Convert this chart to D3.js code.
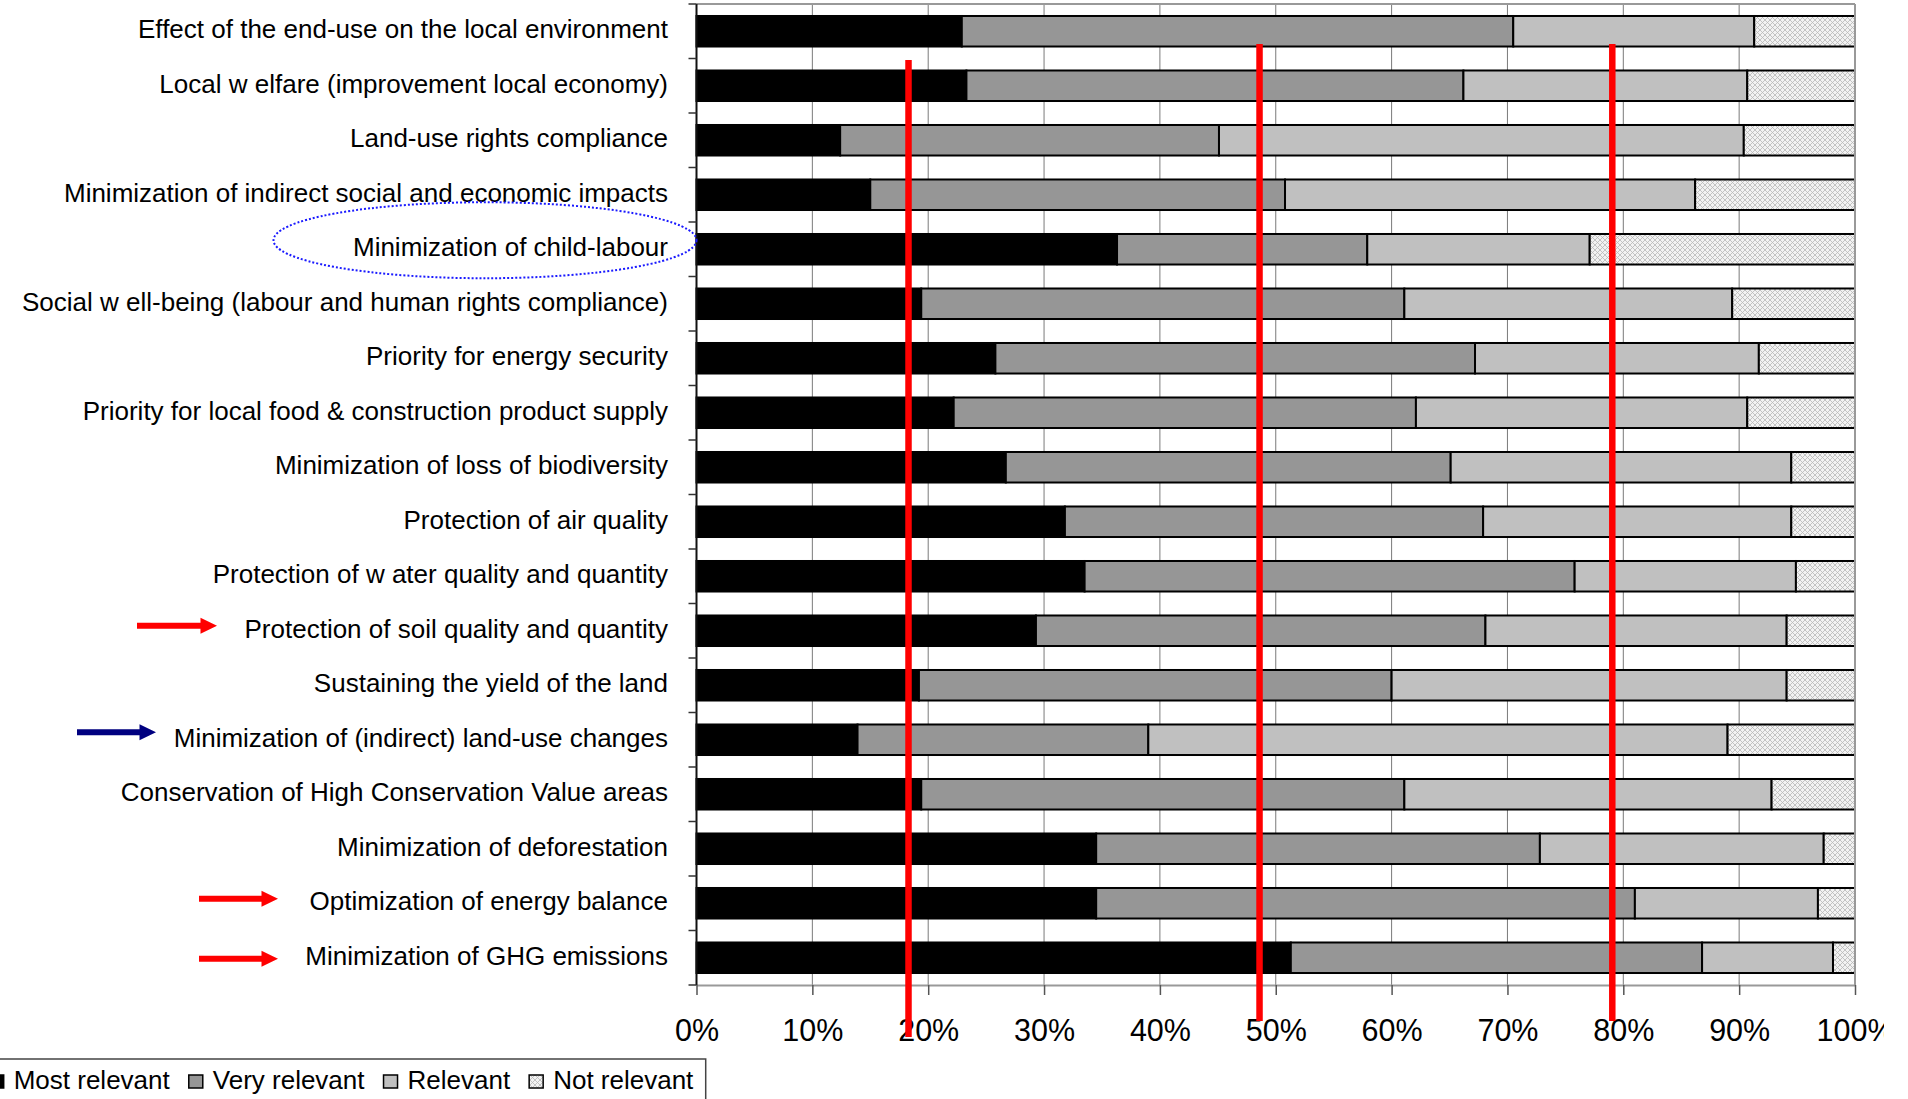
<!DOCTYPE html>
<html>
<head>
<meta charset="utf-8">
<script src="https://cdn.jsdelivr.net/npm/d3@7"></script>
<style>
body { margin: 0; background: #fff; }
svg { display: block; font-family: "Liberation Sans", Arial, sans-serif; }
</style>
</head>
<body>
<svg id="chart" width="1884" height="1099"></svg>
<script>
//------------------- Données -------------------

var categories = [
    "Effect of the end-use on the local environment",
    "Local w elfare (improvement local economy)",
    "Land-use rights compliance",
    "Minimization of indirect social and economic impacts",
    "Minimization of child-labour",
    "Social w ell-being (labour and human rights compliance)",
    "Priority for energy security",
    "Priority for local food & construction product supply",
    "Minimization of loss of biodiversity",
    "Protection of air quality",
    "Protection of w ater quality and quantity",
    "Protection of soil quality and quantity",
    "Sustaining the yield of the land",
    "Minimization of (indirect) land-use changes",
    "Conservation of High Conservation Value areas",
    "Minimization of deforestation",
    "Optimization of energy balance",
    "Minimization of GHG emissions"
];

// pourcentages de réponses, une valeur par catégorie
var mostRelevant = [22.9, 23.3, 12.4, 15.0, 36.3, 19.4, 25.8, 22.2, 26.7, 31.8, 33.5, 29.3, 19.2, 13.9, 19.4, 34.5, 34.5, 51.3];
var veryRelevant = [47.6, 42.9, 32.7, 35.8, 21.6, 41.7, 41.4, 39.9, 38.4, 36.1, 42.3, 38.8, 40.8, 25.1, 41.7, 38.3, 46.5, 35.5];
var relevant     = [20.8, 24.5, 45.3, 35.4, 19.2, 28.3, 24.5, 28.6, 29.4, 26.6, 19.1, 26.0, 34.1, 50.0, 31.7, 24.5, 15.8, 11.3];
var notRelevant  = [ 8.7,  9.3,  9.6, 13.8, 22.9, 10.6,  8.3,  9.3,  5.5,  5.5,  5.1,  5.9,  5.9, 11.0,  7.2,  2.7,  3.2,  1.9];

var seriesNames = ["Most relevant", "Very relevant", "Relevant", "Not relevant"];
var seriesKeys = ["most", "very", "rel", "not"];
var tickValues = [0, 10, 20, 30, 40, 50, 60, 70, 80, 90, 100];

// lignes rouges verticales (en %)
var seuils = [18.3, 48.6, 79.05];

//------------------- Mise en page -------------------

var svg = d3.select("#chart");
var x0 = 696.5, x1 = 1855, yTop = 4, yBas = 985;
var labelRight = 668;

var x = d3.scaleLinear().domain([0, 100]).range([x0, x1]);
var y = d3.scaleBand().domain(categories).range([yTop, yBas]).paddingInner(0.44).paddingOuter(0.22);

var couleurs = { most: "#000000", very: "#969696", rel: "#c0c0c0", not: "url(#hachure)" };

// motif hachuré pour "Not relevant"
var defs = svg.append("defs");
var pat = defs.append("pattern")
    .attr("id", "hachure")
    .attr("width", 5)
    .attr("height", 5)
    .attr("patternUnits", "userSpaceOnUse");
pat.append("rect").attr("width", 5).attr("height", 5).attr("fill", "#f2f2f2");
pat.append("path")
    .attr("d", "M0,0 L5,5 M5,0 L0,5")
    .attr("stroke", "#b8b8b8")
    .attr("stroke-width", 0.8);

//------------------- Grille -------------------

svg.append("g").selectAll("line")
    .data(tickValues.filter(function(t) { return t > 0 && t < 100; }))
    .enter().append("line")
    .attr("x1", function(d) { return x(d); })
    .attr("x2", function(d) { return x(d); })
    .attr("y1", yTop)
    .attr("y2", yBas)
    .attr("stroke", "#7a7a7a")
    .attr("stroke-width", 1);

//------------------- Barres empilées -------------------

var table = categories.map(function(c, i) {
    return { cat: c, most: mostRelevant[i], very: veryRelevant[i], rel: relevant[i], not: notRelevant[i] };
});

var stack = d3.stack().keys(seriesKeys)(table);

svg.append("g").selectAll("g")
    .data(stack)
    .enter().append("g")
    .attr("fill", function(d) { return couleurs[d.key]; })
    .selectAll("rect")
    .data(function(d) { return d; })
    .enter().append("rect")
    .attr("x", function(d) { return x(d[0]); })
    .attr("width", function(d) { return x(d[1]) - x(d[0]); })
    .attr("y", function(d) { return y(d.data.cat); })
    .attr("height", y.bandwidth())
    .attr("stroke", "#000")
    .attr("stroke-width", 2);

//------------------- Cadre et axes -------------------

svg.append("line")
    .attr("x1", x0).attr("x2", x1).attr("y1", yTop).attr("y2", yTop)
    .attr("stroke", "#999").attr("stroke-width", 2);
svg.append("line")
    .attr("x1", x1).attr("x2", x1).attr("y1", yTop).attr("y2", yBas)
    .attr("stroke", "#999").attr("stroke-width", 2);

var axeX = svg.append("g")
    .attr("transform", "translate(0," + yBas + ")")
    .call(d3.axisBottom(x)
        .tickValues(tickValues)
        .tickSize(10)
        .tickSizeOuter(0)
        .tickPadding(24)
        .tickFormat(function(d) { return d + "%"; }));
axeX.select(".domain").attr("stroke", "#999").attr("stroke-width", 2);
axeX.selectAll(".tick line").attr("stroke", "#555").attr("stroke-width", 1.5);
axeX.selectAll(".tick text")
    .attr("fill", "#000")
    .style("font-family", "'Liberation Sans', Arial, sans-serif")
    .style("font-size", "30.5px");

// axe vertical et graduations entre les catégories
svg.append("line")
    .attr("x1", x0).attr("x2", x0).attr("y1", yTop).attr("y2", yBas)
    .attr("stroke", "#111").attr("stroke-width", 2);

var limites = categories.map(function(c) { return y(c) - (y.step() - y.bandwidth()) / 2; });
limites.push(yBas);
svg.append("g").selectAll("line")
    .data(limites)
    .enter().append("line")
    .attr("x1", x0 - 8).attr("x2", x0)
    .attr("y1", function(d) { return d; })
    .attr("y2", function(d) { return d; })
    .attr("stroke", "#333").attr("stroke-width", 1.5);

//------------------- Libellés des catégories -------------------

svg.append("g").selectAll("text")
    .data(categories)
    .enter().append("text")
    .attr("x", labelRight)
    .attr("y", function(d) { return y(d) + y.bandwidth() / 2 + 7; })
    .attr("text-anchor", "end")
    .attr("font-size", "26px")
    .attr("fill", "#000")
    .text(function(d) { return d; });

//------------------- Annotations -------------------

// lignes rouges
var lignesRouges = [
    { val: seuils[0], haut: 60, bas: 1037 },
    { val: seuils[1], haut: 44, bas: 1021 },
    { val: seuils[2], haut: 44, bas: 1021 }
];
svg.append("g").selectAll("line")
    .data(lignesRouges)
    .enter().append("line")
    .attr("x1", function(d) { return x(d.val); })
    .attr("x2", function(d) { return x(d.val); })
    .attr("y1", function(d) { return d.haut; })
    .attr("y2", function(d) { return d.bas; })
    .attr("stroke", "#ff0000")
    .attr("stroke-width", 6.5);

// flèches devant certains critères
var fleches = [
    { cat: "Protection of soil quality and quantity", debut: 137, pointe: 217, dy: -5, couleur: "#ff0000" },
    { cat: "Minimization of (indirect) land-use changes", debut: 77, pointe: 156, dy: -7.5, couleur: "#000080" },
    { cat: "Optimization of energy balance", debut: 199, pointe: 278, dy: -4.5, couleur: "#ff0000" },
    { cat: "Minimization of GHG emissions", debut: 199, pointe: 278, dy: 1, couleur: "#ff0000" }
];

function flechePath(a, b, yc) {
    var tige = 3, tete = 8, lg = 16.5;
    var c = b - lg;
    return "M" + a + "," + (yc - tige) + " L" + c + "," + (yc - tige) + " L" + c + "," + (yc - tete) +
        " L" + b + "," + yc + " L" + c + "," + (yc + tete) + " L" + c + "," + (yc + tige) +
        " L" + a + "," + (yc + tige) + " Z";
}

svg.append("g").selectAll("path")
    .data(fleches)
    .enter().append("path")
    .attr("d", function(d) { return flechePath(d.debut, d.pointe, y(d.cat) + y.bandwidth() / 2 + d.dy); })
    .attr("fill", function(d) { return d.couleur; });

// ellipse pointillée autour de "child-labour"
var catEllipse = "Minimization of child-labour";
svg.append("ellipse")
    .attr("cx", 485)
    .attr("cy", y(catEllipse) + y.bandwidth() / 2 - 9)
    .attr("rx", 211.5)
    .attr("ry", 38)
    .attr("fill", "none")
    .attr("stroke", "#1a1aff")
    .attr("stroke-width", 2)
    .attr("stroke-dasharray", "2,2");

//------------------- Légende -------------------

var legende = svg.append("g");
legende.append("rect")
    .attr("x", -20).attr("y", 1059)
    .attr("width", 725.7).attr("height", 60)
    .attr("fill", "#fff")
    .attr("stroke", "#444")
    .attr("stroke-width", 1.5);

var posX = -10.3;
seriesKeys.forEach(function(k, i) {
    legende.append("rect")
        .attr("x", posX).attr("y", 1075)
        .attr("width", 14).attr("height", 13)
        .attr("fill", couleurs[k])
        .attr("stroke", "#000")
        .attr("stroke-width", 1.5);
    var t = legende.append("text")
        .attr("x", posX + 24)
        .attr("y", 1089)
        .attr("font-size", "26px")
        .attr("fill", "#000")
        .text(seriesNames[i]);
    posX = posX + 24 + t.node().getComputedTextLength() + 19;
});
</script>
</body>
</html>
